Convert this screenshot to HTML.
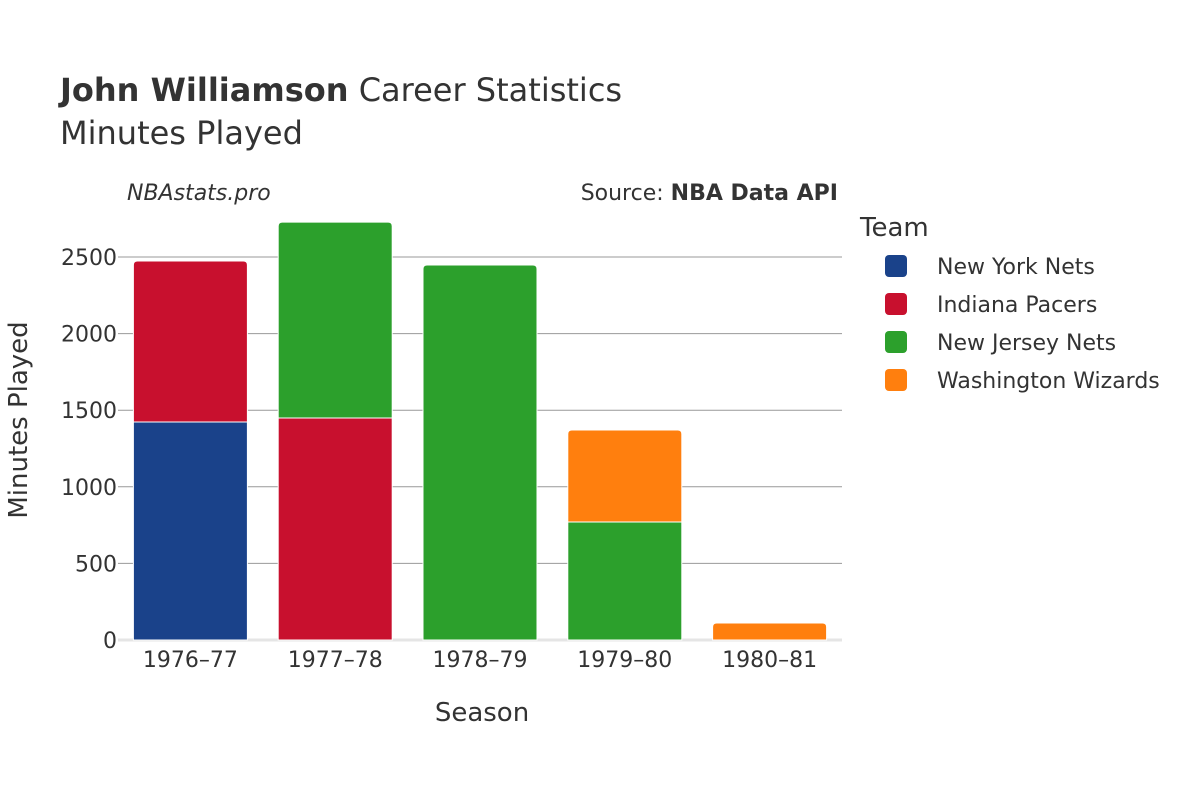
<!DOCTYPE html>
<html><head><meta charset="utf-8"><style>
body{margin:0;background:#fff;}
svg text{font-family:"DejaVu Sans","Liberation Sans",sans-serif;fill:#333;}
</style></head><body>
<svg id="chart" width="1200" height="800" xmlns="http://www.w3.org/2000/svg">
<text x="60" y="101" font-size="32"><tspan font-weight="bold">John Williamson</tspan> Career Statistics</text>
<text x="60" y="144" font-size="32">Minutes Played</text>
<text x="127" y="200" font-size="22" font-style="italic">NBAstats.pro</text>
<text x="838" y="200" font-size="22" text-anchor="end">Source: <tspan font-weight="bold">NBA Data API</tspan></text>
<g id="grid"></g>
<g id="bars"></g>
<g id="xt"></g>
<g id="yt"></g>
<text x="482" y="721" font-size="26" text-anchor="middle">Season</text>
<text x="0" y="0" font-size="26" text-anchor="middle" transform="translate(27,420) rotate(-90)">Minutes Played</text>
<text x="860" y="236" font-size="26">Team</text>
<g id="legend"></g>
</svg>
<script>
const seasons=["1976–77","1977–78","1978–79","1979–80","1980–81"];
const teams=["New York Nets","Indiana Pacers","New Jersey Nets","Washington Wizards"];
const colors=["#1a428a","#c8102e","#2ca02c","#ff7f0e"];
const nyNets=[1423,0,0,0,0];
const pacers=[1051,1449,0,0,0];
const njNets=[0,1279,2448,770,0];
const wizards=[0,0,0,601,111];
const yTicks=[0,500,1000,1500,2000,2500];
const series=[nyNets,pacers,njNets,wizards];
const NS="http://www.w3.org/2000/svg";
const x0=118,x1=842,y0=640,yScale=383/2500;
const band=(x1-x0)/seasons.length,bw=114;
const Y=v=>y0-v*yScale;
const X=i=>x0+band*i+band/2;
function mk(tag,attrs,parent){const e=document.createElementNS(NS,tag);for(const k in attrs)e.setAttribute(k,attrs[k]);parent.appendChild(e);return e;}
const grid=document.getElementById('grid'),yt=document.getElementById('yt'),xt=document.getElementById('xt'),bars=document.getElementById('bars'),lg=document.getElementById('legend');
yTicks.forEach(t=>{
 const l=mk('line',{x1:x0,x2:x1,y1:Y(t),y2:Y(t),stroke:t===0?'#e5e5e5':'#999','stroke-width':t===0?3:1},grid);
 
 
 const tx=mk('text',{x:x0-1,y:Y(t)+8,'font-size':22,'text-anchor':'end'},yt);
 tx.textContent=t;
 
 
});
seasons.forEach((s,i)=>{
 const tx=mk('text',{x:X(i),y:667,'font-size':22,'text-anchor':'middle'},xt);
 tx.textContent=s;
 
 
 let base=0;
 let last=-1;series.forEach((sr,k)=>{if(sr[i]>0)last=k;});
 series.forEach((sr,k)=>{
  const v=sr[i]; if(!v)return;
  const yt1=Y(base+v),yb=Y(base),xl=X(i)-bw/2,r=k===last?4:0;
  const d=`M${xl},${yb}L${xl},${yt1+r}Q${xl},${yt1} ${xl+r},${yt1}L${xl+bw-r},${yt1}Q${xl+bw},${yt1} ${xl+bw},${yt1+r}L${xl+bw},${yb}Z`;
  const p=mk('path',{d:d,fill:colors[k],stroke:'#fff','stroke-width':1},bars);
  
  
  base+=v;
 });
});
teams.forEach((t,k)=>{
 const y=266+k*38;
 const r=mk('rect',{x:885,y:y-11,width:22,height:22,rx:4,fill:colors[k]},lg);
 
 
 const tx=mk('text',{x:937,y:y+8,'font-size':22},lg);
 tx.textContent=t;
 
 
});
</script>
</body></html>
